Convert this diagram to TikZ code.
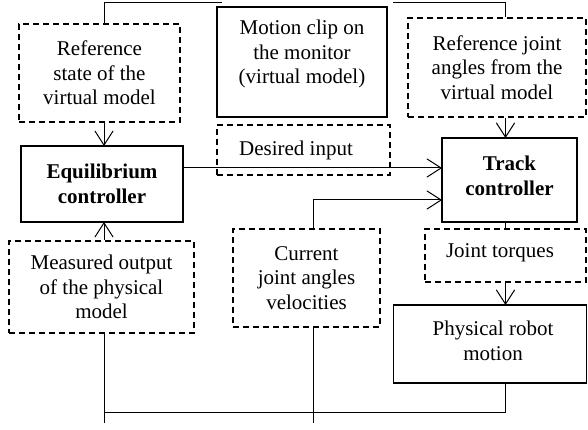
\documentclass[tikz,border=0pt]{standalone}
\usepackage{fontspec}
\setmainfont{Liberation Serif}
\newfontfamily\boxfont{Liberation Serif}
\usetikzlibrary{calc}
\begin{document}
\begin{tikzpicture}[x=1pt,y=-1pt,
  every node/.style={inner sep=0pt, align=center, font=\boxfont\fontsize{21}{24.5}\selectfont},
  solidbox/.style={draw, line width=1.8pt},
  dashbox/.style={draw, line width=1.6pt, dash pattern=on 6pt off 4pt},
  conn/.style={line width=1pt},
  vhead/.style={conn, line cap=round, line join=miter}
]
\useasboundingbox (0,0) rectangle (588,430);

% boxes
\node[dashbox, minimum width=161, minimum height=98] (refstate) at (99.5,73) {Reference\\state of the\\virtual model};
\node[solidbox, minimum width=170, minimum height=110] (motion) at (302,62) {};
\node (motiontxt) at (302,54) {Motion clip on\\the monitor\\(virtual model)};
\node[dashbox, minimum width=178, minimum height=99] (refjoint) at (497,67.5) {Reference joint\\angles from the\\virtual model};
\node[dashbox, minimum width=173, minimum height=50] (desired) at (303.5,150) {};
\node (desiredtxt) at (296,150) {Desired input};
\node[solidbox, minimum width=162, minimum height=76] (equil) at (102,184) {\bfseries Equilibrium\\\bfseries controller};
\node[solidbox, minimum width=135, minimum height=84] (track) at (509.5,180) {};
\node (tracktxt) at (509.5,176) {\bfseries Track\\\bfseries controller};
\node[dashbox, minimum width=185, minimum height=92] (measured) at (101.5,287) {Measured output\\of the physical\\model};
\node[dashbox, minimum width=147, minimum height=98] (current) at (306.5,278) {Current\\joint angles\\velocities};
\node[dashbox, minimum width=161, minimum height=53] (torques) at (505.5,255.5) {};
\node (torquestxt) at (500,253) {Joint torques};
\node[solidbox, minimum width=193, minimum height=78] (physical) at (490,344) {};
\node (physicaltxt) at (493,341) {Physical robot\\motion};

% helper coordinates for the connector columns
\coordinate (lx) at (104,0);
\coordinate (cx) at (313,0);
\coordinate (rx) at (505.5,0);
\coordinate (topl) at (222,3);
\coordinate (topr) at (393,3);
\coordinate (botl) at (104,423);
\coordinate (botc) at (313,423);
\coordinate (busy) at (0,412);

% open V heads: two strokes meeting at the tip
\newcommand\headdown[1]{\draw[vhead] ($(#1)+(-9,-14)$) -- (#1) -- ($(#1)+(9,-14)$);}
\newcommand\headup[1]{\draw[vhead] ($(#1)+(-9,14)$) -- (#1) -- ($(#1)+(9,14)$);}
\newcommand\headright[1]{\draw[vhead] ($(#1)+(-14,-9)$) -- (#1) -- ($(#1)+(-14,9)$);}

% top feed lines
\draw[conn] (refstate.north -| lx) |- (topl);
\draw[conn] (topr) -| (refjoint.north -| rx);

% arrows into the controllers
\coordinate (t1) at (equil.north -| lx);
\draw[conn] (refstate.south -| lx) -- (t1); \headdown{t1}
\coordinate (t2) at (track.north -| rx);
\draw[conn] (refjoint.south -| rx) -- (t2); \headdown{t2}
\coordinate (t3) at (equil.south -| lx);
\draw[conn] (measured.north -| lx) -- (t3); \headup{t3}
\coordinate (t4) at (track.west |- 0,168);
\draw[conn] (equil.east |- 0,168) -- (t4); \headright{t4}
\coordinate (t5) at (track.west |- 0,200);
\draw[conn] (current.north -| cx) |- (t5); \headright{t5}

% track controller to robot
\draw[conn] (track.south -| rx) -- (torques.north -| rx);
\coordinate (t6) at (physical.north -| rx);
\draw[conn] (torques.south -| rx) -- (t6); \headdown{t6}

% feedback bus at the bottom
\draw[conn] (measured.south -| lx) -- (botl);
\draw[conn] (current.south -| cx) -- (botc);
\draw[conn] (physical.south -| rx) |- (busy -| lx);
\end{tikzpicture}
\end{document}
